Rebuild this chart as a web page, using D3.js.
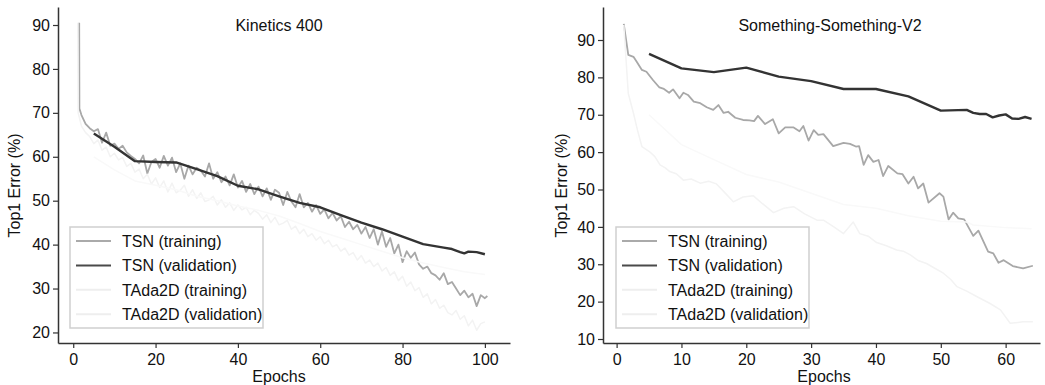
<!DOCTYPE html>
<html>
<head>
<meta charset="utf-8">
<script src="https://cdn.jsdelivr.net/npm/d3@7"></script>
<style>
  body { margin: 0; background: #fff; }
  svg { display: block; font-family: "Liberation Sans", Arial, sans-serif; }
</style>
</head>
<body>
<div id="chart"></div>
<script>
// ---- data: [epoch, top1 error %] ----
const seriesNames = ["TSN (training)", "TSN (validation)", "TAda2D (training)", "TAda2D (validation)"];

const k400TsnTrain = [[1.45,90.5],[1.5,71],[2,69.5],[3,67.5],[4,66.5],[5,65.8],[6,66.3],[7,63.2],[8,65.5],[9,62.5],[10,63],
  [11,61.8],[12,62.5],[13,61],[14,60.2],[15,59.5],[16,58.5],[17,60.3],[18,56.2],[19,58.8],[20,59.5],
  [21,57.5],[22,60.2],[23,58],[24,59.8],[25,56.5],[26,58.5],[27,55],[28,58],[29,56],[30,57.5],
  [31,56.8],[32,55.5],[33,58.5],[34,55],[35,56.5],[36,54.2],[37,55.5],[38,53.5],[39,56],[40,53],
  [41,54.5],[42,52],[43,53.8],[44,51.5],[45,53.2],[46,51],[47,52.8],[48,50.2],[49,52.5],[50,51.8],
  [51,49],[52,52],[53,49.8],[54,48.5],[55,51.5],[56,48.5],[57,49.5],[58,47.5],[59,49],[60,47],
  [61,48],[62,46],[63,47.2],[64,45.5],[65,46.5],[66,44],[67,45.2],[68,43.5],[69,44.5],[70,42.5],
  [71,44],[72,41.5],[73,43.5],[74,40],[75,43],[76,39.5],[77,41.5],[78,38],[79,40],[80,36],
  [81,38.5],[82,37],[83,38.2],[84,35.5],[85,34.5],[86,35],[87,33.5],[88,33],[89,32],[90,33.5],
  [91,31],[92,31.5],[93,30],[94,28.5],[95,29.5],[96,28],[97,28.8],[98,26],[99,28.5],[100,27.8],[100.6,28.3]];

const k400TsnVal = [[5,65.3],[10,62.3],[15,59],[20,58.8],[25,58.7],[30,57.2],[35,55.6],[40,53.4],[45,52.6],
  [50,51],[55,49.5],[60,48.5],[65,46.7],[70,45],[75,43.5],[80,41.8],[85,40.1],[90,39.3],[92,39],
  [94,38.3],[95,38],[96,38.4],[98,38.3],[100,37.8]];

const k400TadaTrain = [[1.1,90.5],[1.2,70],[2,67],[3,65.5],[4,64.6],[5,63],[6,63.8],[7,61.5],[8,62.2],[9,60],[10,60.8],
  [11,59.3],[12,59.8],[13,57.8],[14,58.5],[15,56.5],[16,57.2],[17,55],[18,56],[19,53.8],[20,55.2],
  [21,53],[22,54.5],[23,52],[24,54],[25,51.8],[26,52.4],[27,53.5],[28,51],[29,52.5],[30,50.5],
  [31,51.8],[32,49.8],[33,50.2],[34,51],[35,49],[36,50.2],[37,48.5],[38,49.5],[39,47.8],[40,49],
  [41,47.9],[42,48.5],[43,46.8],[44,47.8],[45,47.1],[46,45.8],[47,46.8],[48,45],[49,46.2],[50,44.5],
  [51,44.9],[52,45.5],[53,43.5],[54,44.2],[55,42.5],[56,43.5],[57,41.8],[58,42.5],[59,41],[60,41.8],
  [61,40.2],[62,41],[63,39.5],[64,40],[65,38.5],[66,39.2],[67,37.6],[68,38.2],[69,36.5],[70,37.5],
  [71,35.8],[72,36.5],[73,35],[74,35.8],[75,34],[76,34.8],[77,33],[78,33.8],[79,31.8],[80,32.8],
  [81,30.5],[82,31.5],[83,29.5],[84,30.2],[85,28],[86,28.8],[87,26.5],[88,27.5],[89,25.5],[90,26.2],
  [91,24.5],[92,24],[93,25],[94,23],[95,23.8],[96,21.5],[97,22.8],[98,20.5],[99,22],[100,22.4]];

const k400TadaVal = [[5,60],[10,57],[15,54.5],[20,53.5],[25,52.5],[30,51],[35,50],[40,48.8],[45,47.8],
  [50,46.5],[55,44.8],[60,43],[65,41.5],[70,40],[75,38.5],[80,37],[85,35.8],[90,34.8],[95,33.8],[100,33.2]];

const ssv2TsnTrain = [[1.1,94.3],[1.8,86],[2.6,85.5],[3.1,84.2],[3.9,82],[4.6,81.5],[5.6,79.3],[6.6,77.3],[7.3,76.9],
  [8.1,75.9],[8.7,76.8],[9.7,74.4],[10.3,75.9],[11,75.3],[11.9,73.5],[12.9,73.1],[13.9,72],[14.9,71.3],
  [15.7,72.6],[16.5,70.5],[17.2,70.8],[18.3,69.2],[19.5,68.6],[20.5,68.5],[21.2,68.3],[21.8,69.7],[22.9,67.5],
  [24.1,68.8],[25,65],[26,66.6],[27.3,66.6],[28.2,65.6],[28.8,67],[29.6,63.1],[30.4,65.9],[31.1,64.6],
  [31.9,64.8],[33.4,61.6],[35,62.5],[36,62.2],[36.9,61.5],[37.4,61.6],[38.1,56.6],[38.8,59.2],[39.6,57.4],
  [40.4,57.9],[41.1,53.6],[41.9,56.3],[43.3,54.3],[44.1,54.1],[45,51.6],[45.8,53.4],[46.5,50.3],[47.3,51.6],
  [48.1,46.5],[49.8,49],[50.4,48.1],[51.2,42],[51.9,43.8],[52.7,42.3],[53.6,42],[55,37.6],[55.8,39],
  [57.3,33.4],[58.1,32.9],[58.9,30.4],[59.7,31.1],[61.1,29.5],[62.7,28.9],[64.2,29.6]];

const ssv2TsnVal = [[5,86.3],[10,82.4],[15,81.4],[20,82.6],[25,80.2],[30,79],[35,76.9],[40,76.9],[45,74.9],
  [50,71.1],[54,71.3],[55,70.5],[56,70.2],[57,70.2],[58,69.3],[59,69.8],[60,70.1],[61,69],[62,68.9],
  [63,69.4],[64,68.9]];

const ssv2TadaTrain = [[1.1,94],[1.8,75.7],[2.6,70.4],[3.2,66],[3.9,61.5],[5.1,60.1],[5.9,58.8],[6.7,56.6],[7.5,55.8],
  [8.2,54.8],[9.2,54.2],[10.3,52.5],[11.5,52.8],[12.9,51.7],[14.2,52.2],[15.4,51.5],[16.5,49.5],[18,46.7],
  [19.5,48],[21.1,48.3],[22.5,46.2],[24.2,43.8],[25.8,45],[27.3,45.4],[29,43.5],[30.9,41.8],[31.9,41.8],
  [33.5,40],[35,38.2],[36.5,41.3],[37.5,38.2],[38.8,37.5],[40.1,35.8],[41.5,35],[43.2,33.8],[44.2,33.5],
  [45.3,32.5],[46.5,31],[47.8,30.2],[49,29],[50.4,27.6],[51.5,26],[52.5,24],[54,22.8],[55.6,21.3],
  [57.6,19.5],[59.2,17.8],[60.7,14.2],[62.7,14.6],[64.2,14.6]];

const ssv2TadaVal = [[5,70],[10,62],[15,58],[20,54],[25,52],[30,49],[35,46],[40,45],[45,43],[50,41.5],
  [54,41.3],[55,40.5],[60,39.8],[64,39.5]];

const k400XTicks = [0, 20, 40, 60, 80, 100];
const k400YTicks = [20, 30, 40, 50, 60, 70, 80, 90];
const ssv2XTicks = [0, 10, 20, 30, 40, 50, 60];
const ssv2YTicks = [10, 20, 30, 40, 50, 60, 70, 80, 90];

// ---- styling ----
const lineColors = ["#a8a8a8", "#333333", "#f3f3f3", "#f9f9f9"];
const lineWidths = [1.8, 2.4, 1.5, 1.5];
const legendColors = ["#aaaaaa", "#4a4a4a", "#eeeeee", "#eeeeee"];

const width = 1045, height = 385;

const svg = d3.select("#chart")
    .append("svg")
    .attr("width", width)
    .attr("height", height);

function drawPanel(p) {
    const x = d3.scaleLinear().domain(p.xDomain).range([p.x0, p.x1]);
    const y = d3.scaleLinear().domain(p.yDomain).range([p.y1, p.y0]);

    const g = svg.append("g");

    // lines, in legend order (later ones on top)
    const line = d3.line().x(d => x(d[0])).y(d => y(d[1]));
    p.series.forEach((s, i) => {
        g.append("path")
            .datum(s)
            .attr("fill", "none")
            .attr("stroke", lineColors[i])
            .attr("stroke-width", lineWidths[i])
            .attr("stroke-linejoin", "round")
            .attr("d", line);
    });

    // axes
    const xAxis = g.append("g")
        .attr("transform", `translate(0,${p.y1})`)
        .call(d3.axisBottom(x).tickValues(p.xTicks).tickSize(5).tickSizeOuter(0).tickPadding(6));
    const yAxis = g.append("g")
        .attr("transform", `translate(${p.x0},0)`)
        .call(d3.axisLeft(y).tickValues(p.yTicks).tickSize(5).tickSizeOuter(0).tickPadding(3));

    [xAxis, yAxis].forEach(a => {
        a.selectAll("text")
            .style("font-size", "16px")
            .style("font-family", "'Liberation Sans', Arial, sans-serif")
            .attr("fill", "#111");
        a.selectAll("line").attr("stroke", "#333").attr("stroke-width", 1.2);
        a.select(".domain").attr("stroke", "#333").attr("stroke-width", 1.5);
    });

    // title and axis labels
    g.append("text")
        .attr("x", p.titleX)
        .attr("y", 31)
        .attr("text-anchor", "middle")
        .style("font-size", "16px")
        .attr("fill", "#111")
        .text(p.title);

    g.append("text")
        .attr("x", p.epochsX)
        .attr("y", 382)
        .attr("text-anchor", "middle")
        .style("font-size", "16px")
        .attr("fill", "#111")
        .text("Epochs");

    g.append("text")
        .attr("transform", `translate(${p.ylabelX},185.5) rotate(-90)`)
        .attr("text-anchor", "middle")
        .style("font-size", "16px")
        .attr("fill", "#111")
        .text("Top1 Error (%)");

    // legend
    const legend = g.append("g").attr("transform", `translate(${p.legendX},227)`);
    legend.append("rect")
        .attr("width", 193)
        .attr("height", 101)
        .attr("fill", "#fff")
        .attr("fill-opacity", 0.8)
        .attr("stroke", "#cfcfcf")
        .attr("stroke-width", 1.5);

    const item = legend.selectAll(".item")
        .data(seriesNames)
        .enter().append("g")
        .attr("class", "item")
        .attr("transform", (d, i) => `translate(0,${14 + i * 24.4})`);

    item.append("line")
        .attr("x1", 6).attr("x2", 41)
        .attr("stroke", (d, i) => legendColors[i])
        .attr("stroke-width", 2);

    item.append("text")
        .attr("x", 52)
        .attr("y", 5.7)
        .style("font-size", "16px")
        .attr("fill", "#111")
        .text(d => d);
}

drawPanel({
    x0: 58, x1: 510, y0: 7, y1: 343,
    xDomain: [-3.7, 106.1], yDomain: [17.6, 94.1],
    xTicks: k400XTicks, yTicks: k400YTicks,
    title: "Kinetics 400", titleX: 279, epochsX: 279, ylabelX: 20, legendX: 70,
    series: [k400TsnTrain, k400TsnVal, k400TadaTrain, k400TadaVal]
});

drawPanel({
    x0: 603, x1: 1040, y0: 7, y1: 343,
    xDomain: [-2.1, 65.3], yDomain: [8.93, 98.83],
    xTicks: ssv2XTicks, yTicks: ssv2YTicks,
    title: "Something-Something-V2", titleX: 830, epochsX: 824, ylabelX: 567, legendX: 616,
    series: [ssv2TsnTrain, ssv2TsnVal, ssv2TadaTrain, ssv2TadaVal]
});
</script>
</body>
</html>
